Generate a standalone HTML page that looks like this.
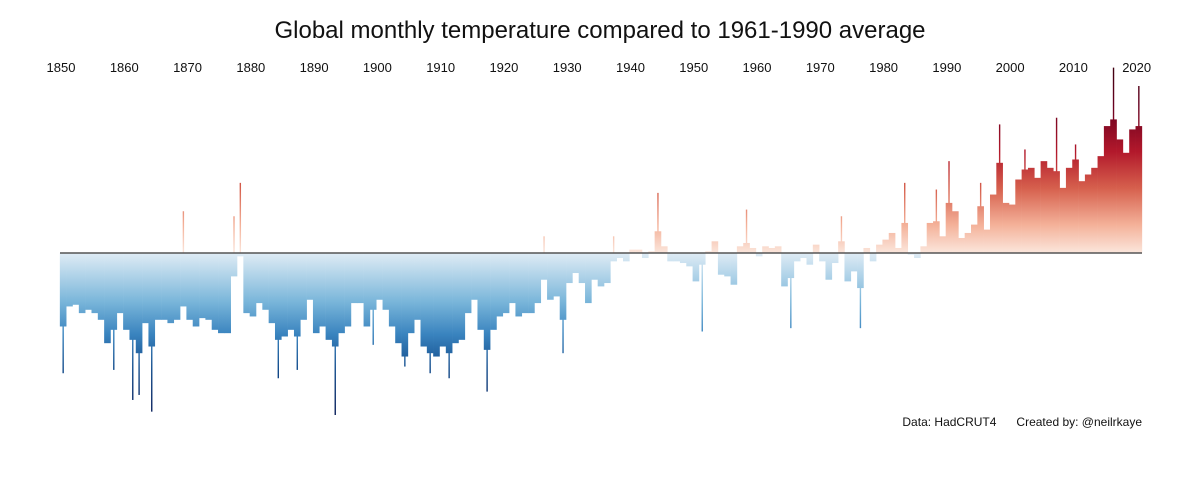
<!DOCTYPE html>
<html><head><meta charset="utf-8"><style>
body{margin:0;background:#fff;}
svg{display:block;font-family:"Liberation Sans",sans-serif;}
</style></head><body>
<svg id="chart" width="1200" height="480" viewBox="0 0 1200 480">
<defs>
<linearGradient id="gpos" gradientUnits="userSpaceOnUse" x1="0" y1="253" x2="0" y2="68">
<stop offset="0" stop-color="#fbe6dc"/><stop offset="0.15" stop-color="#f4b29a"/><stop offset="0.35" stop-color="#d6604d"/><stop offset="0.55" stop-color="#b2182b"/><stop offset="0.8" stop-color="#67001f"/><stop offset="1" stop-color="#400010"/>
</linearGradient>
<linearGradient id="gneg" gradientUnits="userSpaceOnUse" x1="0" y1="253" x2="0" y2="415">
<stop offset="0" stop-color="#dfecf5"/><stop offset="0.3" stop-color="#7ab6da"/><stop offset="0.5" stop-color="#3a84bf"/><stop offset="0.72" stop-color="#134c8c"/><stop offset="1" stop-color="#0a1f5a"/>
</linearGradient>
</defs>
<text x="600" y="38" text-anchor="middle" font-size="24" fill="#111">Global monthly temperature compared to 1961-1990 average</text>
<g id="xlabels"></g>
<g id="bars"></g>
<line x1="60" y1="253" x2="1142" y2="253" stroke="#555" stroke-width="1.5"/>
<text x="1142" y="426" text-anchor="end" font-size="12" fill="#111">Data: HadCRUT4 &#160;&#160;&#160;&#160; Created by: @neilrkaye</text>
</svg>
<script>
const startYear = 1850;
const annual = [
-0.44,-0.32,-0.31,-0.36,-0.34,-0.36,-0.40,-0.54,-0.46,-0.36,
-0.46,-0.52,-0.60,-0.42,-0.56,-0.40,-0.40,-0.42,-0.40,-0.32,
-0.40,-0.44,-0.39,-0.40,-0.46,-0.48,-0.48,-0.14,-0.02,-0.36,
-0.38,-0.30,-0.34,-0.42,-0.52,-0.50,-0.46,-0.50,-0.40,-0.28,
-0.48,-0.44,-0.52,-0.56,-0.48,-0.44,-0.30,-0.30,-0.44,-0.34,
-0.28,-0.34,-0.44,-0.54,-0.62,-0.48,-0.40,-0.56,-0.60,-0.62,
-0.56,-0.60,-0.54,-0.52,-0.36,-0.28,-0.46,-0.58,-0.46,-0.38,
-0.36,-0.30,-0.38,-0.36,-0.36,-0.30,-0.16,-0.28,-0.26,-0.40,
-0.18,-0.12,-0.18,-0.30,-0.16,-0.20,-0.18,-0.05,-0.03,-0.05,
0.02,0.02,-0.03,0.01,0.13,0.04,-0.05,-0.05,-0.06,-0.08,
-0.17,-0.07,0.01,0.07,-0.13,-0.14,-0.19,0.04,0.06,0.03,
-0.02,0.04,0.03,0.04,-0.20,-0.15,-0.05,-0.03,-0.07,0.05,
-0.05,-0.16,-0.06,0.07,-0.17,-0.11,-0.21,0.03,-0.05,0.05,
0.08,0.12,0.03,0.18,-0.01,-0.03,0.04,0.18,0.19,0.10,
0.30,0.25,0.09,0.12,0.17,0.28,0.14,0.35,0.54,0.30,
0.29,0.44,0.50,0.51,0.45,0.55,0.51,0.49,0.39,0.51,
0.56,0.43,0.47,0.51,0.58,0.76,0.80,0.68,0.60,0.74,0.76
];
const spikeYears = [1850,1858,1861,1862,1864,1869,1877,1878,1884,1887,1893,1899,1904,1908,1911,1917,1926,1929,1937,1944,1951,1958,1965,1973,1976,1983,1988,1990,1995,1998,2002,2007,2010,2016,2020];
const spikeValues = [-0.72,-0.70,-0.88,-0.85,-0.95,0.25,0.22,0.42,-0.75,-0.70,-0.97,-0.55,-0.68,-0.72,-0.75,-0.83,0.10,-0.60,0.10,0.36,-0.47,0.26,-0.45,0.22,-0.45,0.42,0.38,0.55,0.42,0.77,0.62,0.81,0.65,1.11,1.00];
const tickYears = [1850,1860,1870,1880,1890,1900,1910,1920,1930,1940,1950,1960,1970,1980,1990,2000,2010,2020];

const x0=60, x1=1142, y0=253, pxPerDeg=167;
const yearW=(x1-x0)/annual.length;
function xs(year){return x0+(year-startYear)*yearW;}
function ys(v){return y0-v*pxPerDeg;}
const NS='http://www.w3.org/2000/svg';
const bars=document.getElementById('bars');
function bar(year,v,w,name){
  const r=document.createElementNS(NS,'rect');
  
  
  const y=ys(v);
  r.setAttribute('x', xs(year)+(yearW-w)/2);
  r.setAttribute('width', w);
  r.setAttribute('y', Math.min(y,y0));
  r.setAttribute('height', Math.abs(y-y0));
  r.setAttribute('fill', v>=0?'url(#gpos)':'url(#gneg)');
  bars.appendChild(r);
}
annual.forEach((v,i)=>bar(startYear+i,v,yearW+0.3,'bar-'+(startYear+i)));
spikeYears.forEach((yr,i)=>bar(yr,spikeValues[i],1.4,'spike-'+yr));
const xl=document.getElementById('xlabels');
tickYears.forEach(t=>{
  const tx=document.createElementNS(NS,'text');
  
  
  tx.setAttribute('x', xs(t)+1);
  tx.setAttribute('y', 72);
  tx.setAttribute('text-anchor','middle');
  tx.setAttribute('font-size','13');
  tx.setAttribute('fill','#111');
  tx.textContent=t;
  xl.appendChild(tx);
});
</script>
</body></html>
